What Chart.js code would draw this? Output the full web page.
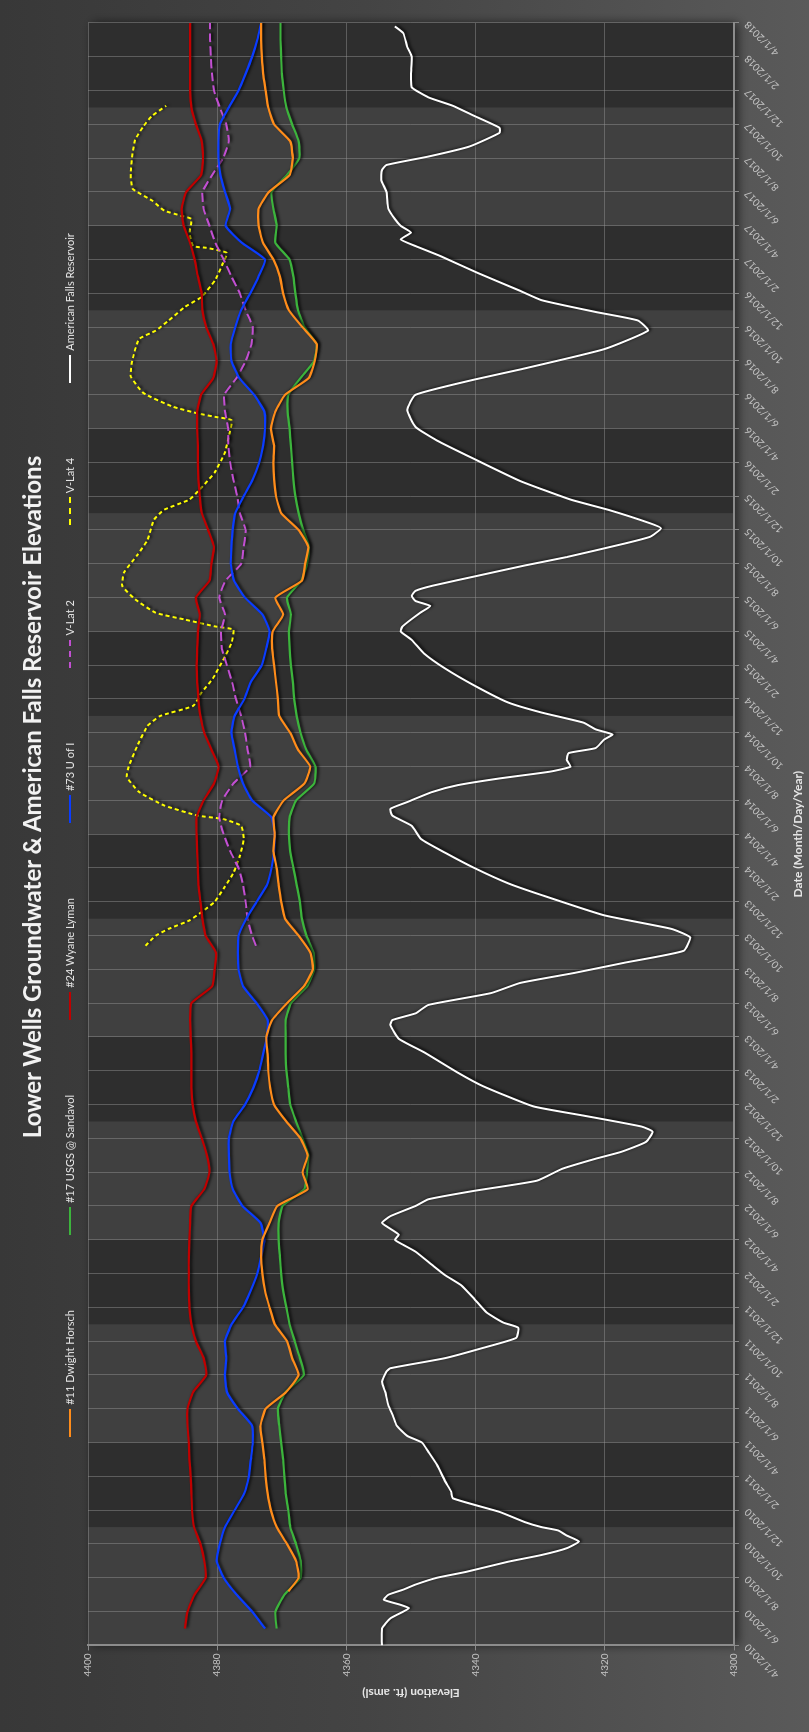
<!DOCTYPE html>
<html>
<head>
<meta charset="utf-8">
<title>Lower Wells Groundwater &amp; American Falls Reservoir Elevations</title>
<script src="https://cdn.jsdelivr.net/npm/chart.js@4.4.1/dist/chart.umd.min.js"></script>
<style>
  html, body { margin: 0; padding: 0; }
  body { width: 809px; height: 1732px; overflow: hidden; background: #4e4e4e; font-family: Lato, sans-serif; }
  /* the chart is laid out landscape and turned a quarter turn to fit the page */
  #frame {
    position: absolute; left: 0; top: 0;
    width: 1732px; height: 809px;
    transform-origin: 0 0;
    transform: translateY(1732px) rotate(-90deg);
    background: linear-gradient(to bottom, #383838 0%, #444 45%, #5a5a5a 100%);
    overflow: hidden;
  }
  #chartBox { position: absolute; left: 0; top: 0; width: 1732px; height: 809px; }
  #title {
    position: absolute; top: 17px; left: 935px; transform: translateX(-50%);
    white-space: nowrap; font: bold 24px Lato, sans-serif; color: #f2f2f2;
  }
  #legend {
    position: absolute; top: 62px; left: 85px; width: 1624px;
    display: flex; justify-content: center; gap: 75px;
    font-size: 11px; color: #e2e2e2; line-height: 16px;
  }
  #legend .item { display: flex; align-items: center; white-space: nowrap; }
  #legend .mark { width: 28px; height: 0; margin-right: 4px; }
</style>
</head>
<body>
<div id="frame">
  <div id="chartBox"><canvas id="wellsChart" width="1732" height="809"></canvas></div>
  <div id="title">Lower Wells Groundwater &amp; American Falls Reservoir Elevations</div>
  <div id="legend"></div>
</div>
<script>
// x values are months counted from 4/1/2010
const tickLabels = [
  '4/1/2010', '6/1/2010', '8/1/2010', '10/1/2010', '12/1/2010',
  '2/1/2011', '4/1/2011', '6/1/2011', '8/1/2011', '10/1/2011', '12/1/2011',
  '2/1/2012', '4/1/2012', '6/1/2012', '8/1/2012', '10/1/2012', '12/1/2012',
  '2/1/2013', '4/1/2013', '6/1/2013', '8/1/2013', '10/1/2013', '12/1/2013',
  '2/1/2014', '4/1/2014', '6/1/2014', '8/1/2014', '10/1/2014', '12/1/2014',
  '2/1/2015', '4/1/2015', '6/1/2015', '8/1/2015', '10/1/2015', '12/1/2015',
  '2/1/2016', '4/1/2016', '6/1/2016', '8/1/2016', '10/1/2016', '12/1/2016',
  '2/1/2017', '4/1/2017', '6/1/2017', '8/1/2017', '10/1/2017', '12/1/2017',
  '2/1/2018', '4/1/2018'
];
const elevationTicks = [4300, 4320, 4340, 4360, 4380, 4400];

// irrigation season (Apr 1 - Nov 1) shading
const seasonStart = [0, 12, 24, 36, 48, 60, 72, 84];
const seasonEnd = [7, 19, 31, 43, 55, 67, 79, 91];

// #11 Dwight Horsch, first reading mid July 2010 then monthly from Aug 2010
const horschElev = [
  4369.0,
  4367.4, 4367.8, 4369.2, 4370.8, 4371.7, 4372.2, 4372.5, 4372.7, 4373.0, 4373.3,
  4372.5, 4369.3, 4367.4, 4368.4, 4369.2, 4371.1, 4371.9, 4372.6, 4373.0, 4373.2,
  4373.0, 4371.9, 4370.7, 4366.0, 4366.8, 4366.0, 4367.1, 4369.3, 4371.2, 4371.8,
  4372.1, 4372.2, 4372.4, 4371.5, 4369.2, 4366.6, 4365.2, 4365.6, 4367.4, 4369.5,
  4370.1, 4370.5, 4370.8, 4371.3, 4371.1, 4371.3, 4369.7, 4366.5, 4365.6, 4367.5,
  4368.7, 4370.4, 4370.6, 4370.9, 4371.2, 4371.5, 4371.4, 4369.8, 4371.0, 4366.9,
  4366.4, 4365.9, 4367.4, 4370.1, 4370.9, 4371.2, 4371.3, 4371.2, 4371.7, 4371.0,
  4369.5, 4365.8, 4364.9, 4364.6, 4366.8, 4368.9, 4369.8, 4370.3, 4371.3, 4372.9,
  4373.6, 4373.6, 4372.0, 4368.8, 4368.3, 4368.7, 4371.2, 4372.1, 4372.5, 4372.9,
  4373.1, 4373.2, 4373.2
];

// #17 USGS @ Sandavol, monthly from May 2010
const usgsElev = [
  4370.8, 4371.0, 4369.6, 4367.1, 4367.1, 4367.8, 4368.7, 4369.0, 4369.4, 4369.6,
  4369.8, 4370.1, 4370.4, 4370.6, 4369.4, 4366.6, 4367.2, 4368.0, 4368.8, 4369.3,
  4369.8, 4370.1, 4370.3, 4370.5, 4370.5, 4369.9, 4366.5, 4366.1, 4365.9, 4366.8,
  4367.8, 4368.7, 4369.0, 4369.3, 4369.4, 4369.4, 4369.4, 4368.6, 4366.1, 4365.0,
  4365.1, 4366.2, 4366.9, 4367.2, 4367.7, 4368.2, 4368.7, 4368.9, 4368.8, 4367.8,
  4365.0, 4364.8, 4366.2, 4367.1, 4367.7, 4368.1, 4368.3, 4368.6, 4368.8, 4368.9,
  4368.6, 4369.2, 4367.0, 4366.1, 4365.8, 4366.7, 4367.4, 4367.9, 4368.2, 4368.4,
  4368.6, 4368.8, 4369.1, 4369.0, 4367.1, 4365.0, 4364.6, 4366.5, 4367.5, 4367.9,
  4368.2, 4368.8, 4371.0, 4370.8, 4371.3, 4371.6, 4369.2, 4367.3, 4367.4, 4368.4,
  4369.3, 4369.7, 4370.0, 4370.1, 4370.2, 4370.2
];

// #24 Wyane Lyman, monthly from May 2010
const lymanElev = [
  4385.0, 4384.6, 4383.5, 4381.8, 4382.0, 4382.6, 4383.6, 4383.9, 4384.0, 4384.1,
  4384.3, 4384.4, 4384.6, 4384.6, 4383.7, 4381.7, 4382.1, 4383.3, 4384.0, 4384.3,
  4384.4, 4384.4, 4384.4, 4384.3, 4384.2, 4384.0, 4382.0, 4381.2, 4381.6, 4382.4,
  4383.3, 4383.8, 4384.0, 4384.0, 4384.0, 4384.1, 4384.2, 4384.0, 4380.8, 4380.4,
  4380.2, 4381.8, 4382.3, 4382.6, 4382.9, 4383.0, 4383.1, 4383.2, 4383.2, 4382.1,
  4380.5, 4379.8, 4380.9, 4382.0, 4382.6, 4382.9, 4383.1, 4383.2, 4383.1, 4383.0,
  4382.7, 4383.3, 4381.2, 4380.9, 4380.5, 4381.4, 4382.4, 4382.7, 4382.9, 4383.0,
  4383.0, 4383.1, 4383.1, 4382.5, 4380.6, 4380.1, 4380.6, 4381.7, 4382.3, 4382.4,
  4383.0, 4383.5, 4384.2, 4385.2, 4385.5, 4384.8, 4382.5, 4382.2, 4382.4, 4383.3,
  4384.0, 4384.2, 4384.2, 4384.2, 4384.2, 4384.2
];

// #73 U of I, monthly from May 2010
const uofiElev = [
  4372.6, 4374.6, 4377.0, 4379.0, 4380.1, 4379.6, 4378.8, 4377.3, 4375.8, 4375.1,
  4374.8, 4374.5, 4374.6, 4376.8, 4378.5, 4378.8, 4378.6, 4378.8, 4377.8, 4376.0,
  4374.8, 4373.8, 4373.2, 4372.7, 4373.3, 4376.1, 4377.6, 4378.1, 4378.2, 4378.2,
  4377.5, 4375.7, 4374.4, 4373.5, 4372.9, 4372.3, 4372.2, 4373.9, 4376.0, 4376.7,
  4376.8, 4376.7, 4375.5, 4373.9, 4372.3, 4371.6, 4371.2, 4371.1, 4371.6, 4374.6,
  4376.0, 4376.8, 4377.3, 4377.8, 4377.3, 4375.8, 4374.8, 4373.1, 4372.4, 4371.9,
  4373.0, 4375.7, 4377.4, 4377.9, 4377.8, 4377.6, 4377.2, 4375.9, 4374.5, 4373.5,
  4372.9, 4372.6, 4372.7, 4374.3, 4376.6, 4377.8, 4377.9, 4377.2, 4376.3, 4374.9,
  4373.6, 4372.6, 4376.2, 4378.7, 4378.0, 4378.8, 4379.5, 4379.8, 4379.8, 4379.6,
  4378.2, 4376.7, 4375.6, 4374.6, 4373.8, 4373.2
];

// V-Lat 2, first reading mid Sept 2013 then monthly from Oct 2013
const vLat2Elev = [
  4374.0,
  4374.6, 4375.3, 4375.6, 4376.0, 4376.7, 4378.0, 4379.0, 4379.7, 4379.2, 4377.5,
  4374.9, 4375.3, 4375.7, 4376.3, 4377.1, 4377.7, 4378.5, 4379.3, 4379.4, 4378.8,
  4379.7, 4378.7, 4376.3, 4375.9, 4375.6, 4376.5, 4376.9, 4377.5, 4378.0, 4378.3,
  4378.3, 4378.8, 4378.9, 4377.0, 4375.6, 4374.7, 4374.5, 4375.6, 4376.5, 4377.8,
  4379.0, 4380.3, 4381.2, 4382.1, 4382.3, 4380.8, 4379.1, 4378.2, 4378.6, 4379.6,
  4380.5, 4380.8, 4381.0, 4381.1, 4381.1
];

// V-Lat 4 readings (irregular dates)
const vLat4Months = [
  41.4, 42.0, 42.4, 42.9, 43.4, 44.0, 44.9, 45.7, 46.7, 47.7,
  48.5, 48.9, 49.1, 49.7, 50.5, 51.4, 52.0, 53.2, 54.4, 55.0,
  55.6, 56.4, 57.2, 58.3, 59.3, 60.1, 60.3, 60.7, 61.1, 61.9,
  62.7, 63.5, 64.5, 65.4, 66.6, 67.2, 67.8, 68.4, 69.4, 70.6,
  71.7, 72.5, 72.7, 72.9, 73.3, 74.1, 75.1, 76.1, 77.3, 77.8,
  78.4, 79.2, 79.8, 80.8, 81.8, 82.4, 82.7, 82.8, 83.6, 84.4,
  84.6, 84.9, 85.5, 86.2, 87.1, 88.3, 89.1, 89.9, 90.5, 91.1
];
const vLat4Elev = [
  4391.1, 4389.5, 4387.5, 4384.3, 4382.4, 4380.4, 4378.8, 4377.5, 4376.5, 4375.9,
  4376.3, 4379.1, 4383.0, 4388.2, 4392.1, 4394.0, 4393.7, 4392.4, 4390.8, 4388.8,
  4383.7, 4382.4, 4380.7, 4379.1, 4377.8, 4377.5, 4380.4, 4385.0, 4389.5, 4392.7,
  4394.7, 4394.4, 4392.4, 4390.8, 4389.8, 4388.2, 4384.3, 4382.7, 4380.4, 4378.8,
  4378.1, 4377.8, 4380.4, 4383.0, 4386.9, 4391.4, 4393.4, 4393.1, 4392.1, 4389.5,
  4387.5, 4385.0, 4382.4, 4380.3, 4379.1, 4378.5, 4381.7, 4383.7, 4384.3, 4384.0,
  4385.6, 4388.2, 4390.1, 4393.1, 4393.4, 4393.1, 4392.7, 4391.4, 4390.1, 4387.9
];

// American Falls Reservoir stage (irregular dates)
const reservoirMonths = [
  0.0, 1.0, 1.6, 2.0, 2.2, 2.4, 2.7, 3.0, 3.3, 3.6,
  4.0, 4.35, 4.95, 5.35, 5.75, 6.15, 6.5, 6.8, 7.0, 7.3,
  7.9, 8.7, 9.1, 9.7, 10.7, 11.45, 12.0, 12.4, 13.0, 13.6,
  14.2, 15.0, 15.6, 16.2, 16.4, 17.0, 17.6, 18.2, 18.8, 19.1,
  19.7, 20.5, 21.3, 21.9, 22.5, 23.3, 23.7, 24.0, 24.3, 24.65,
  25.0, 25.4, 26.0, 26.4, 26.9, 27.5, 28.2, 28.8, 29.2, 29.8,
  30.4, 30.7, 31.35, 31.9, 33.1, 33.9, 35.1, 35.9, 36.7, 37.0,
  37.4, 37.9, 38.6, 39.2, 39.8, 40.4, 41.1, 41.9, 42.4, 43.2,
  44.4, 45.1, 46.0, 46.9, 47.7, 48.5, 49.1, 49.5, 49.9, 50.5,
  50.9, 51.3, 51.7, 52.0, 52.4, 52.8, 53.1, 53.6, 53.9, 54.2,
  54.6, 55.2, 55.8, 56.8, 57.8, 58.7, 59.5, 60.0, 60.3, 61.1,
  61.5, 61.8, 62.1, 62.4, 62.7, 63.3, 63.9, 64.4, 65.2, 65.6,
  66.1, 66.4, 67.2, 67.8, 68.9, 70.2, 71.3, 72.1, 73.1, 74.0,
  74.9, 75.5, 76.7, 77.8, 78.4, 78.9, 79.6, 80.2, 81.2, 82.2,
  82.8, 83.2, 83.6, 84.0, 84.4, 85.0, 86.0, 86.7, 87.3, 87.6,
  88.1, 88.7, 89.5, 89.8, 90.5, 91.1, 91.6, 92.2, 93.0, 94.0,
  94.6, 95.4, 95.8
];
const reservoirElev = [
  4354.5, 4354.5, 4353.2, 4351.2, 4350.3, 4351.6, 4354.2, 4353.5, 4351.2, 4349.3,
  4346.0, 4341.5, 4335.0, 4329.8, 4325.9, 4324.0, 4325.9, 4327.2, 4329.8, 4332.4,
  4336.3, 4343.5, 4343.8, 4344.7, 4346.0, 4347.3, 4348.3, 4350.6, 4352.2, 4352.8,
  4353.5, 4354.0, 4354.5, 4353.8, 4353.2, 4344.7, 4338.9, 4333.7, 4333.4, 4335.7,
  4338.3, 4340.2, 4342.2, 4344.7, 4346.7, 4349.3, 4351.2, 4352.5, 4351.9, 4353.2,
  4354.5, 4353.2, 4349.3, 4347.3, 4340.2, 4330.5, 4326.6, 4321.4, 4317.5, 4313.6,
  4312.6, 4314.3, 4323.3, 4331.1, 4338.9, 4342.8, 4348.0, 4351.9, 4353.2, 4352.9,
  4349.3, 4347.3, 4337.6, 4333.1, 4324.6, 4316.9, 4307.8, 4306.8, 4309.7, 4320.1,
  4329.8, 4335.0, 4340.2, 4344.7, 4348.4, 4349.9, 4352.9, 4353.2, 4350.6, 4346.7,
  4342.8, 4336.3, 4328.5, 4325.3, 4325.9, 4325.6, 4321.4, 4320.1, 4318.8, 4321.4,
  4323.3, 4329.8, 4335.0, 4340.2, 4344.7, 4348.0, 4349.9, 4351.6, 4351.3, 4348.6,
  4347.0, 4349.3, 4349.9, 4349.3, 4346.7, 4339.6, 4332.4, 4325.9, 4316.9, 4313.0,
  4311.3, 4313.0, 4319.5, 4325.3, 4333.1, 4340.2, 4346.0, 4349.3, 4350.6, 4349.3,
  4340.2, 4333.1, 4320.1, 4313.3, 4314.9, 4321.4, 4329.8, 4333.4, 4339.6, 4345.4,
  4349.3, 4351.6, 4350.0, 4351.6, 4352.5, 4353.5, 4353.8, 4354.6, 4354.5, 4353.8,
  4347.3, 4340.9, 4336.3, 4336.3, 4340.2, 4343.5, 4347.3, 4349.9, 4350.0, 4349.9,
  4350.6, 4351.2, 4352.5
];

function monthSteps(first, last) {
  const months = [];
  for (let m = first; m <= last; m++) months.push(m);
  return months;
}
function toPoints(months, values) {
  return values.map((v, i) => ({ x: months[i], y: v }));
}

const wellMonths = monthSteps(1, 96);
const horschMonths = [3.2].concat(monthSteps(4, 96));
const vLat2Months = [41.4].concat(monthSteps(42, 96));

const series = [
  { label: '#11 Dwight Horsch', color: '#ff8c1a', dash: [], width: 2.2, data: toPoints(horschMonths, horschElev) },
  { label: '#17 USGS @ Sandavol', color: '#3cb43c', dash: [], width: 2.2, data: toPoints(wellMonths, usgsElev) },
  { label: '#24 Wyane Lyman', color: '#c00000', dash: [], width: 2.2, data: toPoints(wellMonths, lymanElev) },
  { label: '#73 U of I', color: '#0a3cff', dash: [], width: 2.2, data: toPoints(wellMonths, uofiElev) },
  { label: 'V-Lat 2', color: '#c24fd2', dash: [9, 4], width: 2, data: toPoints(vLat2Months, vLat2Elev) },
  { label: 'V-Lat 4', color: '#ffff00', dash: [4, 3], width: 2, data: toPoints(vLat4Months, vLat4Elev) },
  { label: 'American Falls Reservoir', color: '#ffffff', dash: [], width: 2, data: toPoints(reservoirMonths, reservoirElev) }
];

// dark plot area with the light irrigation-season bands on top
const plotBackground = {
  id: 'plotBackground',
  beforeDraw(chart) {
    const { ctx, chartArea: a, scales: { x } } = chart;
    ctx.save();
    ctx.shadowColor = 'rgba(0,0,0,0.6)';
    ctx.shadowBlur = 10;
    ctx.shadowOffsetY = 4;
    ctx.fillStyle = '#2e2e2e';
    ctx.fillRect(a.left, a.top, a.width, a.height);
    ctx.restore();
    ctx.save();
    ctx.fillStyle = '#404040';
    seasonStart.forEach((s, i) => {
      const x0 = x.getPixelForValue(s);
      const x1 = x.getPixelForValue(seasonEnd[i]);
      ctx.fillRect(x0, a.top, x1 - x0, a.height);
    });
    ctx.restore();
  }
};

// soft drop shadow under every line
const lineShadow = {
  id: 'lineShadow',
  beforeDatasetDraw(chart) {
    const ctx = chart.ctx;
    ctx.save();
    ctx.shadowColor = 'rgba(0,0,0,0.85)';
    ctx.shadowBlur = 3;
    ctx.shadowOffsetX = 1;
    ctx.shadowOffsetY = 2;
  },
  afterDatasetDraw(chart) {
    chart.ctx.restore();
  }
};

Chart.defaults.font.family = 'Lato, sans-serif';

new Chart(document.getElementById('wellsChart'), {
  type: 'line',
  data: {
    datasets: series.map(s => ({
      label: s.label,
      data: s.data,
      borderColor: s.color,
      backgroundColor: s.color,
      borderWidth: s.width,
      borderDash: s.dash,
      pointRadius: 0,
      fill: false,
      tension: 0.15
    }))
  },
  options: {
    responsive: false,
    animation: false,
    layout: { padding: { top: 88, right: 23, bottom: 4, left: 32 } },
    plugins: {
      legend: { display: false },
      title: { display: false },
      tooltip: { enabled: false }
    },
    scales: {
      x: {
        type: 'linear',
        min: 0,
        max: 96,
        afterBuildTicks: axis => {
          axis.ticks = tickLabels.map((_, i) => ({ value: i * 2 }));
        },
        ticks: {
          autoSkip: false,
          minRotation: 45,
          maxRotation: 45,
          color: '#c4c4c4',
          font: { size: 10 },
          callback: value => tickLabels[Math.round(value / 2)]
        },
        grid: { color: 'rgba(150,150,150,0.45)', tickLength: 5, tickColor: '#8a8a8a' },
        border: { color: '#8c8c8c', width: 2 },
        title: {
          display: true,
          text: 'Date (Month/Day/Year)',
          color: '#e4e4e4',
          font: { size: 12, weight: 'bold' },
          padding: { top: 2, bottom: 0 }
        }
      },
      y: {
        min: 4300,
        max: 4400,
        afterBuildTicks: axis => {
          axis.ticks = elevationTicks.map(v => ({ value: v }));
        },
        ticks: {
          color: '#c4c4c4',
          font: { size: 10 },
          callback: value => String(value)
        },
        grid: { color: 'rgba(150,150,150,0.45)', tickLength: 5, tickColor: '#8a8a8a' },
        border: { color: '#8c8c8c', width: 2 },
        title: {
          display: true,
          text: 'Elevation (ft. amsl)',
          color: '#e4e4e4',
          font: { size: 12, weight: 'bold' },
          padding: { top: 0, bottom: 6 }
        }
      }
    }
  },
  plugins: [plotBackground, lineShadow]
});

// legend row built from the same series list
const legendBox = document.getElementById('legend');
series.forEach(s => {
  const item = document.createElement('div');
  item.className = 'item';
  const mark = document.createElement('span');
  mark.className = 'mark';
  mark.style.borderTop = '2px ' + (s.dash.length ? 'dashed ' : 'solid ') + s.color;
  const text = document.createElement('span');
  text.textContent = s.label;
  item.appendChild(mark);
  item.appendChild(text);
  legendBox.appendChild(item);
});
</script>
</body>
</html>
